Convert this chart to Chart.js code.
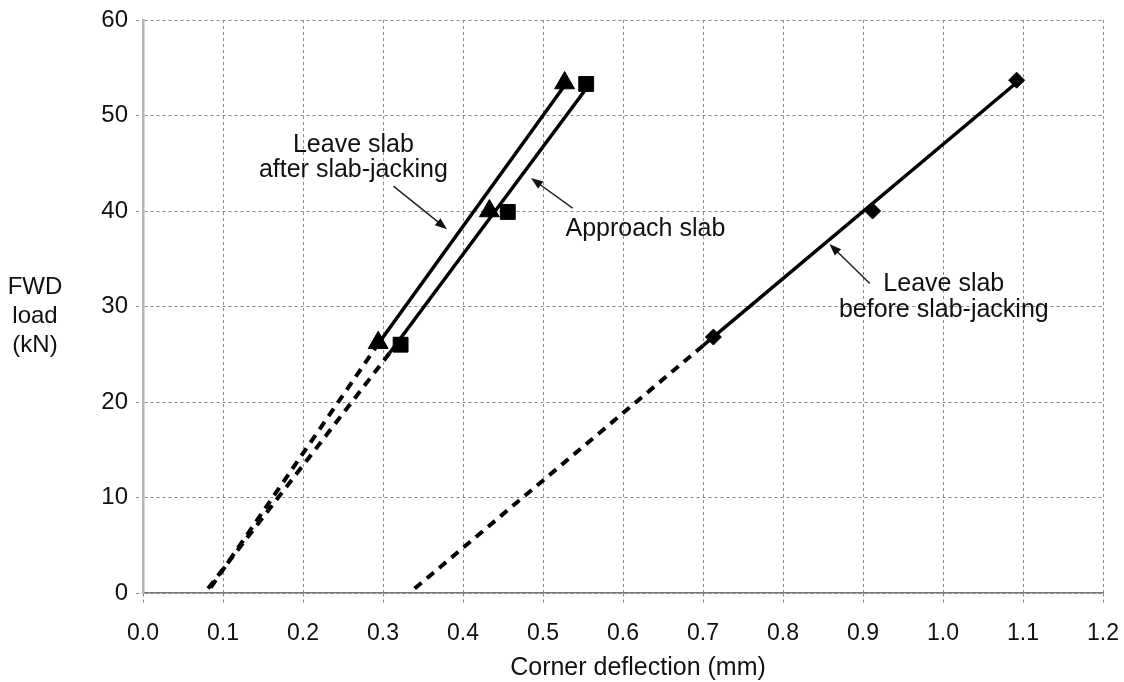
<!DOCTYPE html>
<html>
<head>
<meta charset="utf-8">
<script src="https://cdn.jsdelivr.net/npm/chart.js@4.4.1/dist/chart.umd.min.js"></script>
<style>
  html, body { margin: 0; padding: 0; background: #fff; }
  #wrap { width: 1124px; height: 682px; position: relative; }
</style>
</head>
<body>
<div id="wrap"><canvas id="chart"></canvas></div>
<script>
// --- measured points (corner deflection mm, FWD load kN) ---
const afterJackX = [0.294, 0.433, 0.527];
const afterJackY = [26.2, 40.0, 53.4];
const approachX = [0.322, 0.456, 0.554];
const approachY = [26.0, 39.9, 53.3];
const beforeJackX = [0.713, 0.912, 1.092];
const beforeJackY = [26.8, 40.0, 53.7];

// solid fitted lines
const afterFitX = [0.295, 0.525];
const afterFitY = [26.2, 52.9];
const approachFitX = [0.308, 0.553];
const approachFitY = [25.1, 52.7];
const beforeFitX = [0.700, 1.090];
const beforeFitY = [25.9, 53.3];

// dashed extensions down to zero load
const afterExtX = [0.295, 0.080];
const afterExtY = [26.2, 0];
const approachExtX = [0.308, 0.077];
const approachExtY = [25.1, 0];
const beforeExtX = [0.700, 0.333];
const beforeExtY = [25.9, 0];

// axis ticks
const xTicks = [0, 0.1, 0.2, 0.3, 0.4, 0.5, 0.6, 0.7, 0.8, 0.9, 1.0, 1.1, 1.2];
const yTicks = [0, 10, 20, 30, 40, 50, 60];

// annotation texts and arrows (data coordinates)
const notes = [
  { lines: ['Leave slab', 'after slab-jacking'], x: 0.263, y: [46.9, 44.3],
    arrow: [0.313, 42.6, 0.380, 38.1] },
  { lines: ['Approach slab'], x: 0.628, y: [38.1],
    arrow: [0.537, 40.3, 0.485, 43.45] },
  { lines: ['Leave slab', 'before slab-jacking'], x: 1.001, y: [32.3, 29.6],
    arrow: [0.9085, 32.4, 0.858, 36.55] }
];

const FONT = '"Liberation Sans", Arial, Helvetica, sans-serif';
const zip = (xs, ys) => xs.map((x, i) => ({ x: x, y: ys[i] }));

function lineSet(xs, ys, dashed) {
  return {
    data: zip(xs, ys),
    showLine: true,
    borderColor: '#000',
    borderWidth: dashed ? 4 : 3.5,
    borderDash: dashed ? [9, 7] : [],
    pointRadius: 0,
    fill: false
  };
}

function markerSet(xs, ys, style, radius) {
  return {
    data: zip(xs, ys),
    showLine: false,
    pointStyle: style,
    pointRadius: radius,
    pointBackgroundColor: '#000',
    pointBorderColor: '#000',
    pointBorderWidth: 1
  };
}

// draws the axis titles and the annotation labels with arrows
const notesPlugin = {
  id: 'notes',
  afterDatasetsDraw(chart) {
    const ctx = chart.ctx;
    const xs = chart.scales.x, ys = chart.scales.y;
    const area = chart.chartArea;
    ctx.save();
    ctx.fillStyle = '#111';
    ctx.textAlign = 'center';
    ctx.textBaseline = 'middle';
    ctx.font = '24px ' + FONT;
    ['FWD', 'load', '(kN)'].forEach((t, i) => {
      ctx.fillText(t, area.left - 108, area.top + 267 + i * 29);
    });
    ctx.font = '25px ' + FONT;
    ctx.fillText('Corner deflection (mm)', (area.left + area.right) / 2 + 15, area.bottom + 75);

    notes.forEach(n => {
      ctx.fillStyle = '#111';
      n.lines.forEach((t, i) => {
        ctx.fillText(t, xs.getPixelForValue(n.x), ys.getPixelForValue(n.y[i]));
      });
      const x1 = xs.getPixelForValue(n.arrow[0]), y1 = ys.getPixelForValue(n.arrow[1]);
      const x2 = xs.getPixelForValue(n.arrow[2]), y2 = ys.getPixelForValue(n.arrow[3]);
      const ang = Math.atan2(y2 - y1, x2 - x1);
      ctx.strokeStyle = '#222';
      ctx.lineWidth = 1.5;
      ctx.beginPath();
      ctx.moveTo(x1, y1);
      ctx.lineTo(x2 - 8 * Math.cos(ang), y2 - 8 * Math.sin(ang));
      ctx.stroke();
      ctx.beginPath();
      ctx.moveTo(x2, y2);
      ctx.lineTo(x2 - 12 * Math.cos(ang) + 4.5 * Math.sin(ang), y2 - 12 * Math.sin(ang) - 4.5 * Math.cos(ang));
      ctx.lineTo(x2 - 12 * Math.cos(ang) - 4.5 * Math.sin(ang), y2 - 12 * Math.sin(ang) + 4.5 * Math.cos(ang));
      ctx.closePath();
      ctx.fill();
    });
    ctx.restore();
  }
};

new Chart(document.getElementById('chart'), {
  type: 'scatter',
  data: {
    datasets: [
      lineSet(afterExtX, afterExtY, true),
      lineSet(approachExtX, approachExtY, true),
      lineSet(beforeExtX, beforeExtY, true),
      lineSet(afterFitX, afterFitY, false),
      lineSet(approachFitX, approachFitY, false),
      lineSet(beforeFitX, beforeFitY, false),
      markerSet(afterJackX, afterJackY, 'triangle', 11.5),
      markerSet(approachX, approachY, 'rect', 10.5),
      markerSet(beforeJackX, beforeJackY, 'rectRot', 8)
    ]
  },
  options: {
    responsive: true,
    maintainAspectRatio: false,
    animation: false,
    layout: { padding: { left: 0, right: 21, top: 20, bottom: 0 } },
    plugins: { legend: { display: false }, tooltip: { enabled: false } },
    scales: {
      x: {
        type: 'linear',
        min: 0,
        max: 1.2,
        afterBuildTicks: s => { s.ticks = xTicks.map(v => ({ value: v })); },
        afterFit: s => { s.height = 89; s.paddingLeft = 0; s.paddingRight = 0; },
        ticks: {
          color: '#111',
          font: { family: FONT, size: 23 },
          padding: 17,
          maxRotation: 0,
          callback: v => Number(v).toFixed(1)
        },
        grid: {
          color: '#8a8a8a',
          lineWidth: 1,
          tickLength: 10,
          tickBorderDash: [3, 3]
        },
        border: { display: true, color: '#777', width: 1.5, dash: [3, 3] }
      },
      y: {
        type: 'linear',
        min: 0,
        max: 60,
        afterBuildTicks: s => { s.ticks = yTicks.map(v => ({ value: v })); },
        afterFit: s => { s.width = 143; s.paddingTop = 0; s.paddingBottom = 0; },
        ticks: {
          color: '#111',
          font: { family: FONT, size: 24 },
          padding: 8
        },
        grid: {
          color: '#8a8a8a',
          lineWidth: 1,
          tickLength: 7,
          tickBorderDash: [3, 3]
        },
        border: { display: true, color: '#b5b5b5', width: 2.5, dash: [3, 3] }
      }
    }
  },
  plugins: [notesPlugin]
});
</script>
</body>
</html>
